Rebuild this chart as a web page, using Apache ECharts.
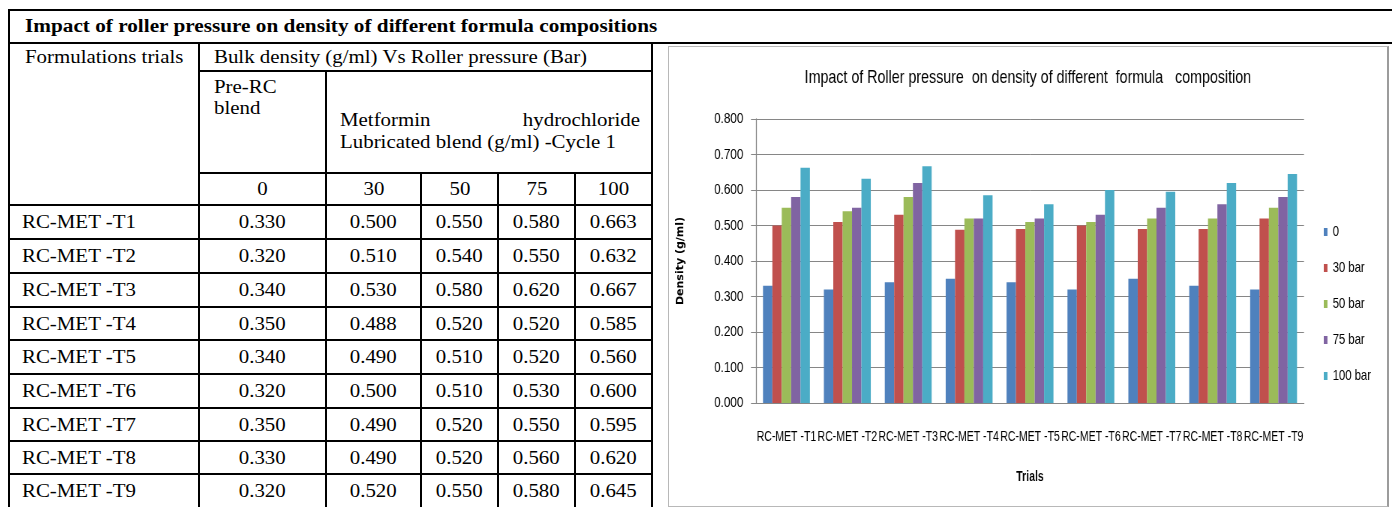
<!DOCTYPE html>
<html>
<head>
<meta charset="utf-8">
<title>Impact of roller pressure on density</title>
<script src="https://cdn.jsdelivr.net/npm/echarts@6/dist/echarts.min.js"></script>
<style>
  html, body { margin: 0; padding: 0; background: #fff; width: 1392px; height: 507px; overflow: hidden; }
  #sheet { position: absolute; left: 0; top: 0; width: 1392px; height: 507px;
           font-family: "Liberation Serif", "Times New Roman", serif; font-size: 18px; color: #000; }
  .ln { position: absolute; background: #000; }
  .tx { position: absolute; white-space: nowrap; line-height: 20px; height: 20px; }
  .tx span { display: inline-block; transform: scaleX(1.16); transform-origin: 0 50%; }
  .tx.c { text-align: center; }
  .tx.c span { transform-origin: 50% 50%; }
  .tx.b { font-weight: bold; }
  .tx.b span { transform: scaleX(1.18); }
  /* framed chart picture; the chart itself is drawn wide and squeezed to give condensed lettering */
  #frame { position: absolute; left: 668px; top: 46px; width: 718px; height: 459px; overflow: hidden;
           border: 1px solid #b8b8b8; border-right: 2px solid #9c9c9c; background: #fff; }
  #chart { position: absolute; left: 0; top: 0; width: 957.33px; height: 459px;
           transform: scaleX(0.75); transform-origin: 0 0; }
</style>
</head>
<body>
<div id="sheet"></div>
<div id="frame"><div id="chart"></div></div>
<script>
// ---- data ----
const trials = ['RC-MET -T1', 'RC-MET -T2', 'RC-MET -T3', 'RC-MET -T4', 'RC-MET -T5',
                'RC-MET -T6', 'RC-MET -T7', 'RC-MET -T8', 'RC-MET -T9'];
const pressures = ['0', '30', '50', '75', '100'];
const seriesNames = ['0', '30 bar', '50 bar', '75 bar', '100 bar'];
const density0   = [0.330, 0.320, 0.340, 0.350, 0.340, 0.320, 0.350, 0.330, 0.320];
const density30  = [0.500, 0.510, 0.530, 0.488, 0.490, 0.500, 0.490, 0.490, 0.520];
const density50  = [0.550, 0.540, 0.580, 0.520, 0.510, 0.510, 0.520, 0.520, 0.550];
const density75  = [0.580, 0.550, 0.620, 0.520, 0.520, 0.530, 0.550, 0.560, 0.580];
const density100 = [0.663, 0.632, 0.667, 0.585, 0.560, 0.600, 0.595, 0.620, 0.645];
const densityByPressure = [density0, density30, density50, density75, density100];

const tableTitle = 'Impact of roller pressure on density of different formula compositions';
const chartTitle = 'Impact of Roller pressure  on density of different  formula   composition';
const yAxisTitle = 'Density (g/ml)';
const xAxisTitle = 'Trials';

// ---- table layout (page pixels) ----
const colX = [9, 199, 326, 421, 498, 575, 652];
const rowY = [205, 239, 273, 307, 340, 374, 408, 441, 474, 508];
const sheet = document.getElementById('sheet');

function hline(x0, x1, y) {
  const d = document.createElement('div');
  d.className = 'ln';
  d.style.cssText = `left:${x0}px;top:${y - 1}px;width:${x1 - x0 + 1}px;height:2px;`;
  sheet.appendChild(d);
}
function vline(x, y0, y1) {
  const d = document.createElement('div');
  d.className = 'ln';
  d.style.cssText = `left:${x - 1}px;top:${y0 - 1}px;width:2px;height:${y1 - y0 + 1}px;`;
  sheet.appendChild(d);
}
function text(str, x, yc, opts = {}) {
  const d = document.createElement('div');
  d.className = 'tx' + (opts.center ? ' c' : '') + (opts.bold ? ' b' : '');
  d.style.left = x + 'px';
  d.style.top = (yc - 10) + 'px';
  if (opts.width) d.style.width = opts.width + 'px';
  const s = document.createElement('span');
  s.textContent = str;
  d.appendChild(s);
  sheet.appendChild(d);
  return d;
}

// ruling
hline(9, 1392, 10);
hline(9, 1392, 43);
hline(199, 652, 71);
hline(199, 652, 173);
hline(9, 652, 205);
rowY.slice(1, -1).forEach(y => hline(9, 652, y));
vline(9, 10, 507);
vline(199, 43, 507);
vline(326, 71, 507);
vline(421, 173, 507);
vline(498, 173, 507);
vline(575, 173, 507);
vline(652, 43, 507);

// header text
text(tableTitle, 25, 26, { bold: true });
text('Formulations trials', 25, 57);
text('Bulk density (g/ml) Vs Roller pressure (Bar)', 214, 57);
text('Pre-RC', 214, 87);
text('blend', 214, 108);
text('Metformin', 340, 120);
(function () {
  const d = text('hydrochloride', 0, 120);
  d.style.left = 'auto';
  d.style.right = (1392 - 640) + 'px';
  d.firstChild.style.transformOrigin = '100% 50%';
})();
text('Lubricated blend (g/ml) -Cycle 1', 340, 142);
pressures.forEach((p, i) => {
  text(p, colX[i + 1], 189, { center: true, width: colX[i + 2] - colX[i + 1] });
});

// body rows
trials.forEach((t, r) => {
  const yc = (rowY[r] + rowY[r + 1]) / 2;
  text(t, 22, yc);
  densityByPressure.forEach((arr, i) => {
    text(arr[r].toFixed(3), colX[i + 1], yc, { center: true, width: colX[i + 2] - colX[i + 1] });
  });
});

// ---- chart (horizontal units are pre-squeeze: page px / 0.75) ----
const SQUEEZE = 0.75;
const SANS = '"Liberation Sans", Arial, sans-serif';
const GRAY = '#868686';
const chart = echarts.init(document.getElementById('chart'), null, { renderer: 'canvas' });
chart.setOption({
  animation: false,
  color: ['#4F81BD', '#C0504D', '#9BBB59', '#8064A2', '#4BACC6'],
  title: {
    text: chartTitle,
    left: 'center',
    top: 21,
    padding: 0,
    textStyle: { fontFamily: SANS, fontSize: 19, fontWeight: 'normal', color: '#000' }
  },
  legend: {
    orient: 'vertical',
    left: 873,
    top: 177,
    padding: 0,
    itemWidth: 5,
    itemHeight: 8,
    itemGap: 20,
    icon: 'rect',
    textStyle: { fontFamily: SANS, fontSize: 15, color: '#000', lineHeight: 16, padding: [0, 0, 0, 2] },
    data: seriesNames
  },
  grid: { left: 116, top: 72, width: 730.7, height: 284, containLabel: false },
  // vertical axis title, kept at normal letter width after the squeeze
  graphic: [{
    type: 'text',
    x: 14.7,
    y: 214,
    rotation: Math.PI / 2,
    scaleY: 1 / SQUEEZE,
    style: {
      text: yAxisTitle,
      fontFamily: '"DejaVu Sans", Verdana, sans-serif',
      fontSize: 11,
      fontWeight: 'bold',
      fill: '#000',
      align: 'center',
      verticalAlign: 'middle'
    }
  }],
  xAxis: {
    type: 'category',
    data: trials,
    name: xAxisTitle,
    nameLocation: 'middle',
    nameGap: 67,
    nameTextStyle: { fontFamily: SANS, fontSize: 14, fontWeight: 'bold', color: '#000' },
    axisLine: { lineStyle: { color: GRAY, width: 1 } },
    axisTick: { length: 5, lineStyle: { color: GRAY } },
    axisLabel: { interval: 0, margin: 27, fontFamily: SANS, fontSize: 14, color: '#000' }
  },
  yAxis: {
    type: 'value',
    min: 0,
    max: 0.8,
    interval: 0.1,
    axisLine: { show: true, lineStyle: { color: GRAY, width: 1.3 } },
    axisTick: { show: true, length: 6.7, lineStyle: { color: GRAY } },
    splitLine: { lineStyle: { color: GRAY, width: 1 } },
    axisLabel: {
      margin: 17,
      fontFamily: SANS,
      fontSize: 15.5,
      color: '#000',
      formatter: v => v.toFixed(3)
    }
  },
  series: seriesNames.map((name, i) => ({
    name,
    type: 'bar',
    data: densityByPressure[i],
    barGap: '0%',
    barCategoryGap: '23%'
  }))
});
</script>
</body>
</html>
